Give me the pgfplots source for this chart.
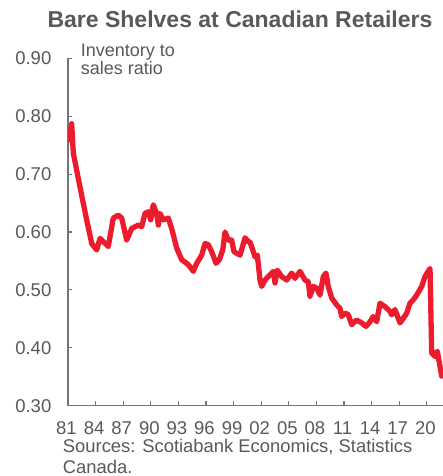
\documentclass[border=0pt]{standalone}
\usepackage{pgfplots}
\pgfplotsset{compat=1.18}
\usepackage{fontspec}
\setmainfont{Liberation Sans}
\definecolor{txt}{HTML}{595959}
\definecolor{axgray}{HTML}{767676}
\definecolor{scotred}{HTML}{EC1C2E}
\begin{document}
\begin{tikzpicture}
\useasboundingbox (-68bp,-70.3bp) rectangle (375bp,405.7bp);
\begin{axis}[
  at={(0,0)}, anchor=south west,
  scale only axis,
  width=377.2bp, height=347.4bp,
  xmin=1981, xmax=2022,
  ymin=0.3, ymax=0.9,
  axis lines=left,
  axis line style={-, draw=axgray, line width=1.1bp},
  tick style={draw=axgray, line width=1.1bp},
  tick align=inside,
  major tick length=4.5bp,
  xtick={1981,1984,1987,1990,1993,1996,1999,2002,2005,2008,2011,2014,2017,2020},
  xticklabels={81,84,87,90,93,96,99,02,05,08,11,14,17,20},
  ytick={0.3,0.4,0.5,0.6,0.7,0.8,0.9},
  /pgf/number format/assume math mode=true,
  ticklabel style={font=\fontsize{18.5bp}{22bp}\selectfont, text=txt, inner sep=0pt},
  xticklabel style={anchor=base, yshift=-28.6bp, xshift=-1.5bp},
  yticklabel style={anchor=east, xshift=-16.5bp, /pgf/number format/fixed, /pgf/number format/fixed zerofill, /pgf/number format/precision=2},
  clip=true,
]
\addplot[scotred, line width=5.3bp, line join=round, line cap=round] coordinates {
(1981.03,0.759) (1981.40,0.787) (1981.58,0.736) (1982.30,0.678) (1983.03,0.621)
(1983.58,0.580) (1984.12,0.569) (1984.48,0.589) (1985.38,0.575) (1985.92,0.624)
(1986.47,0.629) (1986.84,0.624) (1987.38,0.586) (1987.92,0.606) (1988.64,0.612)
(1989.01,0.609) (1989.37,0.632) (1989.73,0.635) (1989.99,0.621) (1990.27,0.647)
(1990.64,0.632) (1990.82,0.612) (1991.00,0.632) (1991.36,0.621) (1991.90,0.624)
(1992.27,0.606) (1992.82,0.572) (1993.36,0.552) (1993.90,0.546) (1994.26,0.540)
(1994.62,0.532) (1994.99,0.546) (1995.53,0.560) (1995.89,0.580) (1996.25,0.578)
(1996.62,0.566) (1997.09,0.546) (1997.45,0.552) (1997.82,0.569) (1998.07,0.600)
(1998.42,0.586) (1998.79,0.586) (1999.04,0.566) (1999.70,0.560) (2000.24,0.590)
(2000.60,0.583) (2000.78,0.583) (2001.33,0.557) (2001.58,0.560) (2001.87,0.517)
(2002.05,0.506) (2002.41,0.517) (2002.96,0.526) (2003.32,0.532) (2003.50,0.512)
(2003.75,0.534) (2004.23,0.523) (2004.77,0.517) (2005.32,0.529) (2005.67,0.520)
(2006.22,0.532) (2006.76,0.517) (2007.12,0.514) (2007.30,0.489) (2007.66,0.506)
(2008.03,0.503) (2008.39,0.491) (2008.75,0.523) (2009.04,0.529) (2009.29,0.506)
(2009.66,0.486) (2010.21,0.474) (2010.57,0.468) (2010.75,0.454) (2011.11,0.460)
(2011.47,0.457) (2011.84,0.440) (2012.38,0.448) (2012.92,0.443) (2013.39,0.437)
(2013.83,0.445) (2014.18,0.454) (2014.55,0.445) (2014.91,0.477) (2015.46,0.471)
(2016.00,0.463) (2016.18,0.457) (2016.54,0.466) (2017.09,0.443) (2017.45,0.451)
(2017.82,0.460) (2018.17,0.477) (2018.53,0.483) (2018.90,0.491) (2019.45,0.506)
(2019.80,0.523) (2020.35,0.537) (2020.53,0.391) (2020.89,0.385) (2021.14,0.394)
(2021.43,0.368) (2021.62,0.351)
};
\end{axis}
\node[anchor=base, inner sep=0pt, text=txt, font=\fontsize{23bp}{27bp}\selectfont\bfseries] at (172bp,378.4bp) {Bare Shelves at Canadian Retailers};
\node[anchor=base west, inner sep=0pt, text=txt, font=\fontsize{18bp}{18.5bp}\selectfont, align=left] at (12.7bp,330.7bp) {Inventory to\\sales ratio};
\node[anchor=base west, inner sep=0pt, text=txt, font=\fontsize{18.4bp}{21bp}\selectfont] at (-5.3bp,-46.5bp) {Sources: Scotiabank Economics, Statistics};
\node[anchor=base west, inner sep=0pt, text=txt, font=\fontsize{18.4bp}{21bp}\selectfont] at (-5.3bp,-67.5bp) {Canada.};
\end{tikzpicture}
\end{document}
